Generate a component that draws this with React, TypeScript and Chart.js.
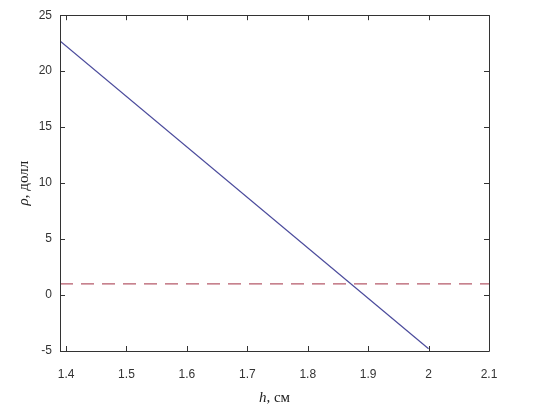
import React, { useEffect, useRef } from "react";
import { Chart, registerables } from "chart.js";

Chart.register(...registerables);

const hValues = [1.39, 2.0];
const rhoValues = [22.7, -4.8];
const thresholdX = [1.39, 2.1];
const thresholdY = [1, 1];
const xTicks = [1.4, 1.5, 1.6, 1.7, 1.8, 1.9, 2.0, 2.1];
const yTicks = [-5, 0, 5, 10, 15, 20, 25];

const boxPlugin = {
  id: "boxPlugin",
  afterDraw(chart: any) {
    const { ctx, chartArea } = chart;
    const { left, right, top, bottom } = chartArea;
    const xs = chart.scales.x;
    const ys = chart.scales.y;
    ctx.save();
    ctx.strokeStyle = "#333";
    ctx.lineWidth = 1;
    ctx.beginPath();
    ctx.rect(Math.round(left) + 0.5, Math.round(top) + 0.5, Math.round(right - left), Math.round(bottom - top));
    ctx.stroke();
    const tl = 5;
    ctx.beginPath();
    xTicks.forEach((v) => {
      const px = Math.round(xs.getPixelForValue(v)) + 0.5;
      ctx.moveTo(px, bottom);
      ctx.lineTo(px, bottom - tl);
      ctx.moveTo(px, top);
      ctx.lineTo(px, top + tl);
    });
    yTicks.forEach((v) => {
      const py = Math.round(ys.getPixelForValue(v)) + 0.5;
      ctx.moveTo(left, py);
      ctx.lineTo(left + tl, py);
      ctx.moveTo(right, py);
      ctx.lineTo(right - tl, py);
    });
    ctx.stroke();

    // axis titles
    ctx.fillStyle = "#222";
    ctx.textBaseline = "middle";
    const serif = '"Liberation Serif", "DejaVu Serif", serif';
    const xParts = [
      { t: "h", f: `italic 15px ${serif}` },
      { t: ", см", f: `15px ${serif}` },
    ];
    let total = 0;
    xParts.forEach((p) => {
      ctx.font = p.f;
      total += ctx.measureText(p.t).width;
    });
    let cx = (left + right) / 2 - total / 2;
    const cy = 398;
    xParts.forEach((p) => {
      ctx.font = p.f;
      ctx.textAlign = "left";
      ctx.fillText(p.t, cx, cy);
      cx += ctx.measureText(p.t).width;
    });
    const yParts = [
      { t: "ρ", f: `italic 15px ${serif}` },
      { t: ", долл", f: `15px ${serif}` },
    ];
    total = 0;
    yParts.forEach((p) => {
      ctx.font = p.f;
      total += ctx.measureText(p.t).width;
    });
    ctx.translate(24, (top + bottom) / 2);
    ctx.rotate(-Math.PI / 2);
    let yx = -total / 2;
    yParts.forEach((p) => {
      ctx.font = p.f;
      ctx.textAlign = "left";
      ctx.fillText(p.t, yx, 0);
      yx += ctx.measureText(p.t).width;
    });
    ctx.restore();
  },
};

export default function App() {
  const ref = useRef<HTMLCanvasElement>(null);
  useEffect(() => {
    if (!ref.current) return;
    const chart = new Chart(ref.current, {
      type: "scatter",
      data: {
        datasets: [
          {
            data: hValues.map((x, i) => ({ x, y: rhoValues[i] })),
            showLine: true,
            borderColor: "#4b4b9c",
            borderWidth: 1.2,
            pointRadius: 0,
            fill: false,
          },
          {
            data: thresholdX.map((x, i) => ({ x, y: thresholdY[i] })),
            showLine: true,
            borderColor: "#b55a6a",
            borderWidth: 1.2,
            borderDash: [13, 8],
            pointRadius: 0,
            fill: false,
          },
        ],
      },
      options: {
        animation: false,
        responsive: true,
        maintainAspectRatio: false,
        layout: { padding: { left: 0, right: 51, top: 14, bottom: 0 } },
        plugins: { legend: { display: false }, tooltip: { enabled: false } },
        scales: {
          x: {
            type: "linear",
            min: 1.39,
            max: 2.1,
            border: { display: false },
            grid: { display: false, drawTicks: false },
            afterBuildTicks: (s: any) => {
              s.ticks = xTicks.map((v) => ({ value: v }));
            },
            afterFit: (s: any) => {
              s.height = 64;
            },
            ticks: {
              padding: 16,
              color: "#333",
              font: { family: '"Liberation Sans", Arial, sans-serif', size: 12 },
              callback: (v: any) => String(Math.round(Number(v) * 10) / 10),
            },
          },
          y: {
            type: "linear",
            min: -5,
            max: 25,
            border: { display: false },
            grid: { display: false, drawTicks: false },
            afterBuildTicks: (s: any) => {
              s.ticks = yTicks.map((v) => ({ value: v }));
            },
            afterFit: (s: any) => {
              s.width = 60;
            },
            ticks: {
              padding: 8,
              color: "#333",
              font: { family: '"Liberation Sans", Arial, sans-serif', size: 12 },
            },
          },
        },
      },
      plugins: [boxPlugin],
    });
    return () => chart.destroy();
  }, []);
  return (
    <div style={{ position: "fixed", left: 0, top: 0, width: 540, height: 415, background: "#fff" }}>
      <canvas ref={ref} />
    </div>
  );
}
